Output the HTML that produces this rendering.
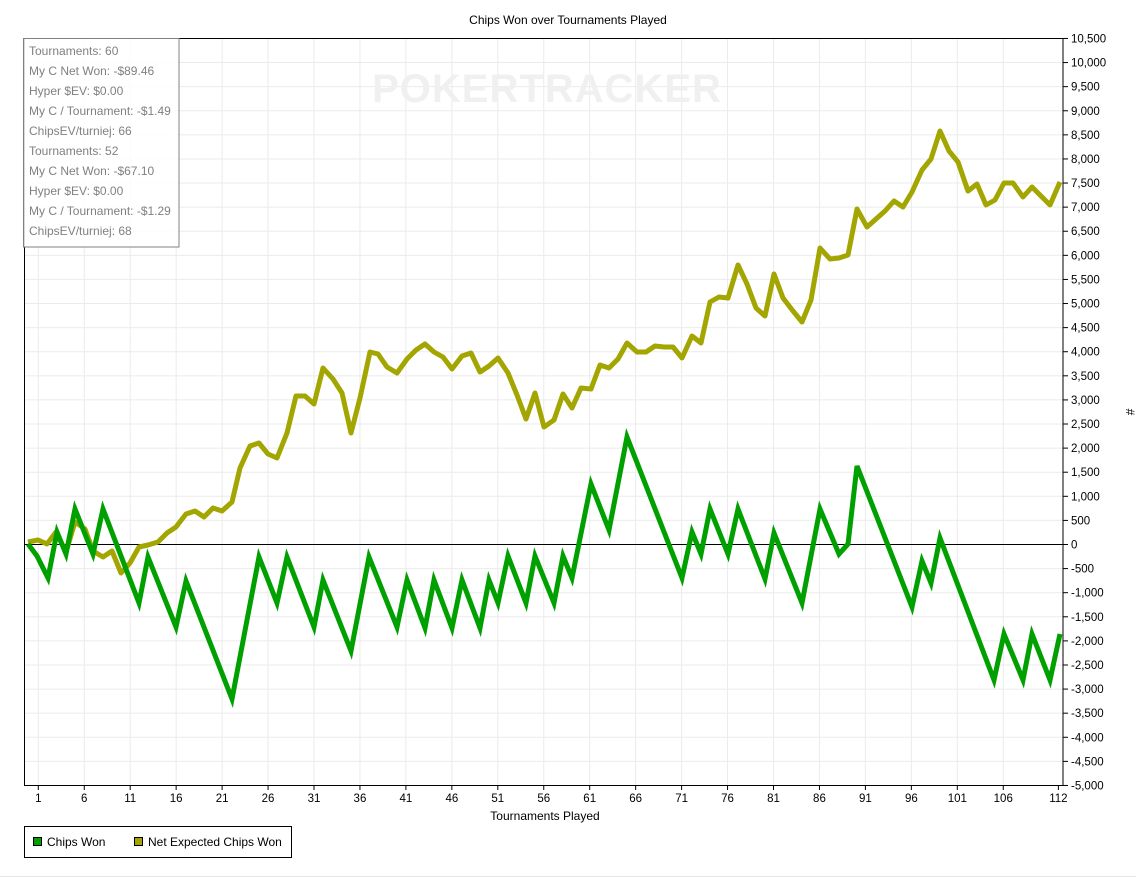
<!DOCTYPE html>
<html><head><meta charset="utf-8"><style>
html,body{margin:0;padding:0;background:#fff;}
svg{display:block;}
text{font-family:"Liberation Sans",sans-serif;}
</style></head><body>
<svg width="1136" height="878" viewBox="0 0 1136 878" xmlns="http://www.w3.org/2000/svg">
<rect width="1136" height="878" fill="#fff"/>
<text x="568" y="24" font-size="12" text-anchor="middle" fill="#000">Chips Won over Tournaments Played</text>
<g stroke="#ebebeb" stroke-width="1" id="grid"></g>
<text x="547" y="102" font-size="40" font-weight="bold" text-anchor="middle" fill="#f0f0f0" letter-spacing="1">POKERTRACKER</text>
<line x1="24.5" y1="544.5" x2="1063" y2="544.5" stroke="#000" stroke-width="1"/>
<rect x="24.5" y="38.5" width="1038.5" height="747" fill="none" stroke="#000" stroke-width="1"/>
<g id="ticks" stroke="#000" stroke-width="1"></g>
<g id="labels" font-size="11.5" fill="#000"></g>
<polyline fill="none" stroke="#a3a500" stroke-width="5" stroke-linejoin="round" points="28,542 38,540 47,544 56,532 66,552 75,522 85,529 93,551 103,557 112,551 121,573 130,563 139,547 148,545 158,542 167,533 176,527 186,514 195,511 204,517 213,508 222,511 232,502 240,468 250,446 259,443 268,454 277,458 287,433 296,396 305,396 314,404 323,368 333,379 342,393 351,433 360,398 370,352 378,354 387,367 397,373 407,359 416,350 425,344 434,352 443,357 452,369 462,356 471,353 480,372 489,366 498,358 508,373 517,395 526,419 535,393 544,427 554,420 563,394 572,408 581,388 591,389 600,365 609,368 618,359 627,343 637,352 646,352 655,346 664,347 673,347 682,358 692,336 701,343 710,302 719,297 728,298 738,265 747,284 756,308 765,316 774,274 783,298 793,311 802,322 811,300 820,248 830,259 839,258 848,255 857,209 867,227 876,219 885,211 894,201 903,207 912,192 922,170 931,159 940,131 949,151 958,162 968,191 977,184 986,205 995,200 1004,183 1013,183 1023,197 1032,187 1041,196 1050,205 1060,182"/>
<polyline fill="none" stroke="#00a000" stroke-width="5" stroke-linejoin="miter" points="28,544 37,556 48,578 57,532 66,554 75,509 93,554 103,509 139,603 148,557 176,627 186,581 232,699 259,557 277,603 287,557 314,627 323,580 351,651 369,557 397,627 407,580 425,628 434,580 452,628 462,580 480,628 489,580 498,603 508,556 526,603 535,556 554,603 563,556 572,578 591,484 609,530 627,437 682,578 692,532 701,554 710,509 728,554 738,509 765,579 774,533 802,603 820,509 839,554 848,544 857,466 912,607 922,561 931,583 940,538 994,680 1004,634 1023,680 1032,634 1050,680 1060,634"/>
<rect x="23.5" y="38.5" width="155.5" height="208.5" fill="#fff" fill-opacity="0.85" stroke="#808080" stroke-width="1"/>
<g font-size="12" fill="#808080">
<text x="29" y="55">Tournaments: 60</text>
<text x="29" y="75">My C Net Won: -$89.46</text>
<text x="29" y="95">Hyper $EV: $0.00</text>
<text x="29" y="115">My C / Tournament: -$1.49</text>
<text x="29" y="135">ChipsEV/turniej: 66</text>
<text x="29" y="155">Tournaments: 52</text>
<text x="29" y="175">My C Net Won: -$67.10</text>
<text x="29" y="195">Hyper $EV: $0.00</text>
<text x="29" y="215">My C / Tournament: -$1.29</text>
<text x="29" y="235">ChipsEV/turniej: 68</text>
</g>
<text x="545" y="820" font-size="12" text-anchor="middle">Tournaments Played</text>
<text x="1126" y="412" font-size="12" text-anchor="middle" transform="rotate(90 1126 412)">#</text>
<rect x="24.5" y="826.5" width="267" height="31" fill="#fff" stroke="#000" stroke-width="1"/>
<rect x="33.5" y="837.5" width="8" height="8" fill="#00a000" stroke="#000"/>
<text x="47" y="846" font-size="12">Chips Won</text>
<rect x="134.5" y="837.5" width="8" height="8" fill="#a3a500" stroke="#000"/>
<text x="148" y="846" font-size="12">Net Expected Chips Won</text>
<line x1="0" y1="876.5" x2="1136" y2="876.5" stroke="#e6e6e6"/>
<script>
(function(){
var ns="http://www.w3.org/2000/svg";
var g=document.getElementById('grid'),t=document.getElementById('ticks'),l=document.getElementById('labels');
function el(p,n,a){var e=document.createElementNS(ns,n);for(var k in a)e.setAttribute(k,a[k]);p.appendChild(e);return e;}
for(var v=-5000;v<=10500;v+=500){
 var y=544.5-v/500*24.097;
 if(v>-5000&&v<10500) el(g,'line',{x1:25,x2:1063,y1:y,y2:y});
 el(t,'line',{x1:1063,x2:1068,y1:y,y2:y});
 var s=Math.abs(v).toLocaleString('en-US');
 var tx=el(l,'text',{x:1071,y:y+4});tx.textContent=(v<0?'-':'')+s;
}
for(var i=1;i<=106;i+=5){
 var x=38.3+(i-1)*9.19;
 el(g,'line',{x1:x,x2:x,y1:39,y2:785});
 el(t,'line',{x1:x,x2:x,y1:785,y2:790});
 var tx=el(l,'text',{x:x,y:802,'text-anchor':'middle'});tx.textContent=i;
}
var x=38.3+111*9.19;
el(t,'line',{x1:x,x2:x,y1:785,y2:790});
var tx=el(l,'text',{x:x,y:802,'text-anchor':'middle'});tx.textContent=112;
})();
</script>
</svg>
</body></html>
